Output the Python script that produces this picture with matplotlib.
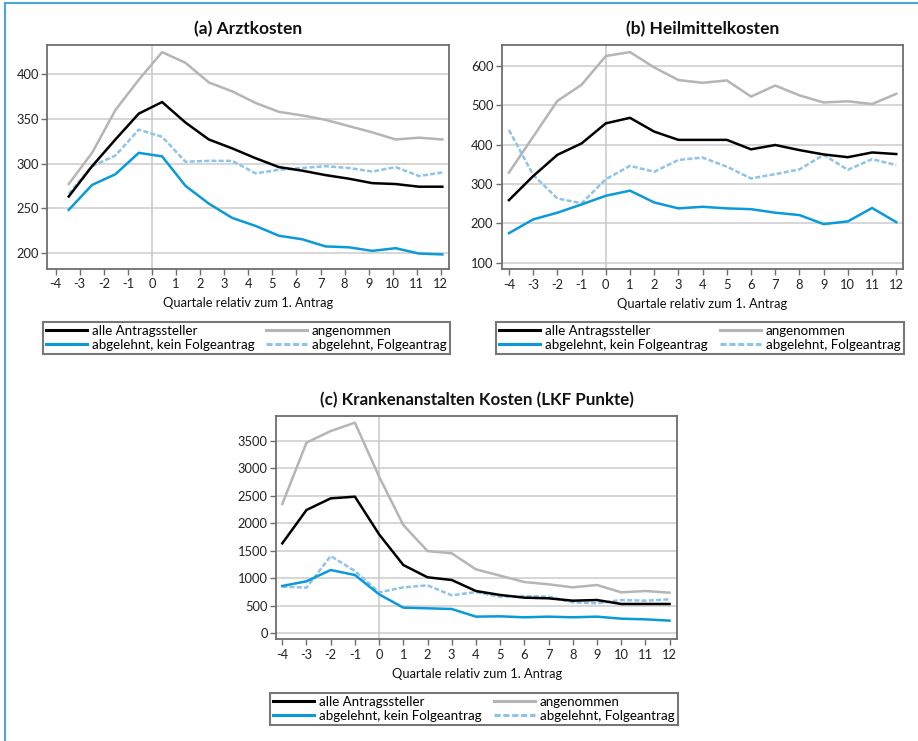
import matplotlib
matplotlib.use("Agg")
import matplotlib.pyplot as plt
from matplotlib.lines import Line2D

plt.rcParams['font.family'] = ['Lato', 'DejaVu Sans']

W, H = 918, 741

# ---------------- data ----------------
quarters = [-4, -3, -2, -1, 0, 1, 2, 3, 4, 5, 6, 7, 8, 9, 10, 11, 12]
tick_labels = ['-4', '-3', '-2', '-1', '0', '1', '2', '3', '4', '5', '6', '7', '8', '9', '10', '11', '12']
# panel (a) points are drawn slightly off the quarter ticks in the original
x_arzt = [-3.46, -2.49, -1.52, -0.55, 0.42, 1.39, 2.36, 3.33, 4.30, 5.27,
          6.24, 7.21, 8.18, 9.15, 10.12, 11.09, 12.06]

series_names = ['alle Antragssteller', 'angenommen',
                'abgelehnt, kein Folgeantrag', 'abgelehnt, Folgeantrag']

arzt_alle = [263, 297, 327, 356, 369, 346, 327, 317, 306, 296, 292, 287, 283, 278, 277, 274, 274]
arzt_ang = [277, 312, 360, 394, 425, 413, 391, 381, 368, 358, 354, 349, 342, 335, 327, 329, 327]
arzt_kein = [248, 276, 288, 312, 308, 275, 255, 239, 230, 219, 215, 207, 206, 202, 205, 199, 198]
arzt_folge = [266, 297, 309, 338, 330, 302, 303, 303, 289, 293, 295, 297, 295, 291, 296, 286, 290]

heil_alle = [259, 320, 374, 403, 454, 468, 433, 412, 412, 412, 388, 399, 386, 375, 368, 380, 376]
heil_ang = [329, 420, 511, 552, 625, 635, 596, 564, 557, 563, 522, 550, 525, 507, 510, 503, 529]
heil_kein = [175, 210, 227, 248, 270, 283, 253, 238, 242, 238, 236, 227, 221, 198, 205, 239, 203]
heil_folge = [437, 323, 263, 251, 312, 346, 331, 361, 367, 344, 314, 325, 337, 374, 336, 363, 348]

kh_alle = [1634, 2242, 2454, 2485, 1798, 1239, 1015, 966, 765, 693, 644, 632, 589, 601, 529, 529, 529]
kh_ang = [2351, 3469, 3681, 3833, 2849, 1968, 1494, 1452, 1160, 1045, 929, 887, 832, 875, 741, 765, 735]
kh_kein = [857, 942, 1148, 1057, 705, 462, 450, 437, 298, 304, 286, 298, 286, 298, 261, 249, 225]
kh_folge = [844, 826, 1403, 1130, 741, 832, 869, 686, 747, 662, 674, 662, 559, 541, 601, 589, 614]

# ---------------- styles ----------------
C_BLACK = '#000000'
C_GRAY = '#b5b5b5'
C_BLUE = '#0a9ad9'
C_LBLUE = '#8ec3ea'
styles = [
    dict(color=C_BLACK, lw=1.8, ls='-'),
    dict(color=C_GRAY, lw=1.8, ls='-'),
    dict(color=C_BLUE, lw=1.8, ls='-'),
    dict(color=C_LBLUE, lw=1.8, ls=(0, (2.0, 0.9))),
]

fig = plt.figure(figsize=(W / 100, H / 100), dpi=100)


def rect(l, t, r, b):
    return [l / W, 1 - b / H, (r - l) / W, (b - t) / H]


def make_panel(box, title, xs, series, ylim, yticks, xlim, legbox, title_size):
    ax = fig.add_axes(rect(*box))
    ax.set_xlim(*xlim)
    ax.set_ylim(*ylim)
    ax.set_yticks(yticks)
    ax.set_xticks(quarters)
    ax.set_xticklabels(tick_labels)
    for yv in yticks:
        ax.axhline(yv, color='#d3d3d3', lw=1.3, zorder=0)
    ax.axvline(0, color='#c8c8c8', lw=1.1, zorder=0)
    order = [1, 0, 3, 2]
    for i in order:
        ax.plot(xs, series[i], zorder=3 + (i == 0), **styles[i])
    for sp in ax.spines.values():
        sp.set_color('#6e6e6e')
        sp.set_linewidth(1.3)
    ax.tick_params(axis='both', direction='out', length=4, width=1.0,
                   color='#6e6e6e', labelsize=9.3, labelcolor='#222222', pad=2)
    ax.tick_params(axis='x', pad=3)
    ax.set_xlabel('Quartale relativ zum 1. Antrag', fontsize=9.3, color='#111111', labelpad=5)
    ax.set_title(title, fontsize=title_size, fontweight='bold', color='#111111', pad=8)
    # legend: row 1 = alle | angenommen, row 2 = kein | Folge (column-major order)
    leg_order = [0, 2, 1, 3]
    handles = [Line2D([], [], **styles[i]) for i in leg_order]
    labels = [series_names[i] for i in leg_order]
    l, t, r, b = legbox
    leg = fig.legend(handles, labels, ncol=2, mode='expand',
                     bbox_to_anchor=(l / W, 1 - b / H, (r - l) / W, (b - t) / H),
                     loc='center', fontsize=9.6, frameon=True, fancybox=False,
                     handlelength=3.05, handletextpad=0.38, labelspacing=0.15,
                     borderpad=0.25, borderaxespad=0.0, columnspacing=1.0)
    leg.get_frame().set_edgecolor('#555555')
    leg.get_frame().set_linewidth(1.5)
    for ln in leg.get_lines():
        ln.set_linewidth(2.2)
    return ax


make_panel((47.3, 45, 449.3, 268.7), '(a) Arztkosten', x_arzt,
           [arzt_alle, arzt_ang, arzt_kein, arzt_folge],
           (182, 433), [200, 250, 300, 350, 400], (-4.35, 12.35),
           (42.7, 319, 450, 357), 12.5)
make_panel((501.7, 45, 903.3, 269), '(b) Heilmittelkosten', quarters,
           [heil_alle, heil_ang, heil_kein, heil_folge],
           (84, 653), [100, 200, 300, 400, 500, 600], (-4.30, 12.29),
           (496, 319, 904, 357), 12.5)
make_panel((276, 416, 677.3, 639.3), '(c) Krankenanstalten Kosten (LKF Punkte)', quarters,
           [kh_alle, kh_ang, kh_kein, kh_folge],
           (-115, 3955), [0, 500, 1000, 1500, 2000, 2500, 3000, 3500], (-4.26, 12.32),
           (270, 690, 677.7, 728.3), 12.2)

# light blue outer frame (left and top edges visible)
fig.add_artist(Line2D([5 / W, 5 / W], [0, 1 - 3 / H], transform=fig.transFigure,
                      color='#4aa6dc', lw=1.5))
fig.add_artist(Line2D([5 / W, 1], [1 - 3 / H, 1 - 3 / H], transform=fig.transFigure,
                      color='#4aa6dc', lw=1.5))

fig.savefig('out.png', dpi=100)
